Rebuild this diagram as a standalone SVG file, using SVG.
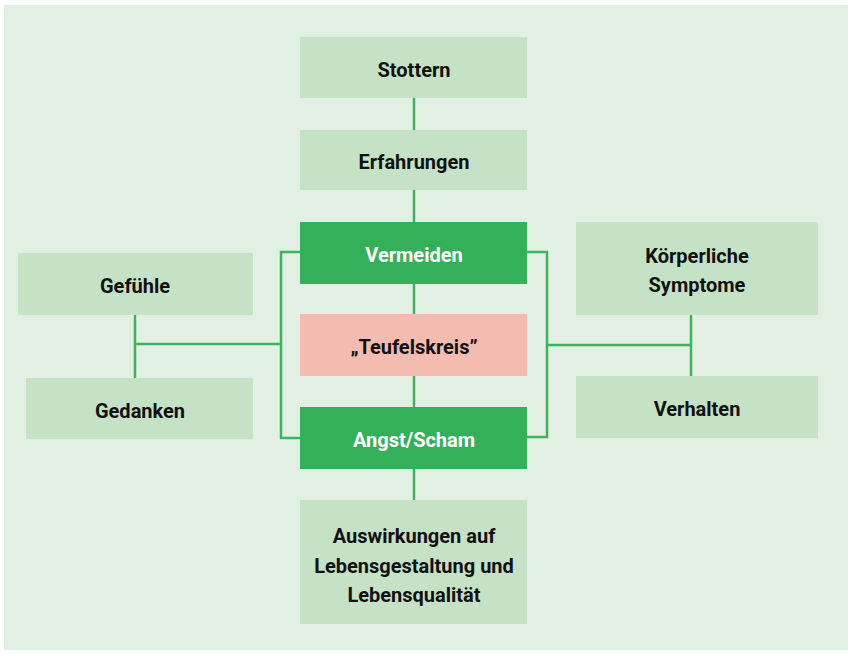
<svg xmlns="http://www.w3.org/2000/svg" width="852" height="655" viewBox="0 0 852 655">
<style>
.bg{fill:#e2f0e3}
.lt{fill:#c5e2c6}
.dk{fill:#35b05a}
.pk{fill:#f4bcb0}
.t{font-family:Roboto,"Liberation Sans",sans-serif;font-weight:bold;font-size:20px;text-anchor:middle;fill:#111}
.w{fill:#ffffff}
.c{fill:none;stroke:#3cb35e;stroke-width:2.5}
</style>
<rect x="0" y="0" width="852" height="655" fill="#ffffff"/>
<rect class="bg" x="4" y="5" width="844" height="645"/>
<g id="connectors">
<path class="c" d="M414,98V130M414,190V222M414,284V314M414,376V407M414,469V500"/>
<path class="c" d="M300,252H281V438H300M281,344H135M135,315V378"/>
<path class="c" d="M527,252H547V437H527M547,345H691M691,315V376"/>
</g>
<g id="stottern"><rect class="lt" x="300" y="37" width="227" height="61"/><text class="t" x="414" y="77">Stottern</text></g>
<g id="erfahrungen"><rect class="lt" x="300" y="130" width="227" height="60"/><text class="t" x="414" y="169">Erfahrungen</text></g>
<g id="vermeiden"><rect class="dk" x="300" y="222" width="227" height="62"/><text class="t w" x="414" y="262">Vermeiden</text></g>
<g id="teufelskreis"><rect class="pk" x="300" y="314" width="227" height="62"/><text class="t" x="414" y="354">„Teufelskreis”</text></g>
<g id="angst"><rect class="dk" x="300" y="407" width="227" height="62"/><text class="t w" x="414" y="447">Angst/Scham</text></g>
<g id="auswirkungen"><rect class="lt" x="300" y="500" width="227" height="124"/><text class="t" x="414" y="543">Auswirkungen auf</text><text class="t" x="414" y="573">Lebensgestaltung und</text><text class="t" x="414" y="602">Lebensqualität</text></g>
<g id="gefuehle"><rect class="lt" x="18" y="253" width="235" height="62"/><text class="t" x="135" y="293">Gefühle</text></g>
<g id="gedanken"><rect class="lt" x="26" y="378" width="227" height="61"/><text class="t" x="140" y="418">Gedanken</text></g>
<g id="koerperliche"><rect class="lt" x="576" y="222" width="242" height="93"/><text class="t" x="697" y="263">Körperliche</text><text class="t" x="697" y="292">Symptome</text></g>
<g id="verhalten"><rect class="lt" x="576" y="376" width="242" height="62"/><text class="t" x="697" y="416">Verhalten</text></g>
</svg>
